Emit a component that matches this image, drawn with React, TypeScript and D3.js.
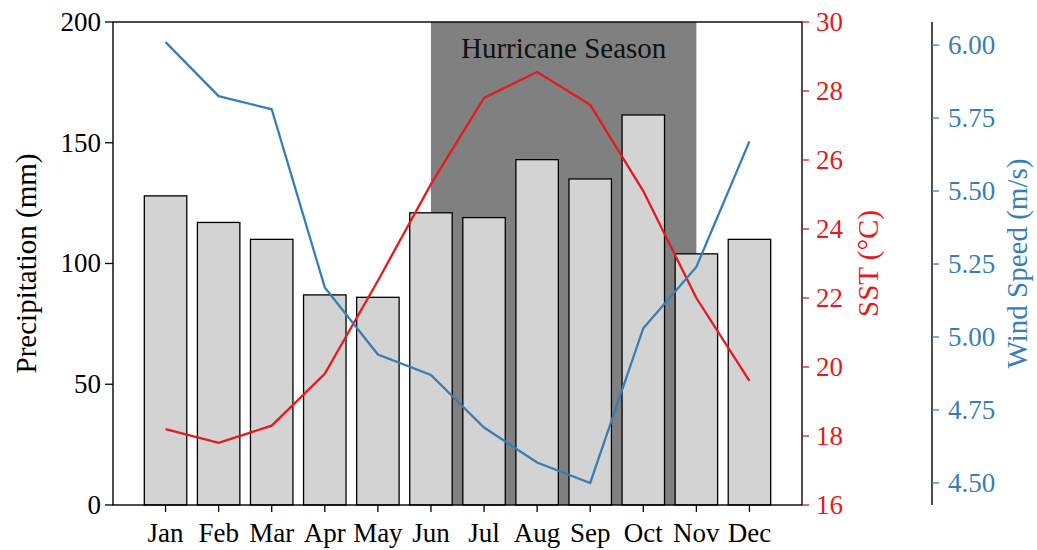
import React from "react";
import * as d3 from "d3";

const months = ["Jan", "Feb", "Mar", "Apr", "May", "Jun", "Jul", "Aug", "Sep", "Oct", "Nov", "Dec"];
const precipitation = [128, 117, 110, 87, 86, 121, 119, 143, 135, 161.5, 104, 110];
const sst = [18.2, 17.8, 18.3, 19.8, 22.5, 25.3, 27.8, 28.55, 27.6, 25.1, 22.0, 19.6];
const wind = [6.01, 5.825, 5.78, 5.17, 4.94, 4.87, 4.69, 4.57, 4.5, 5.03, 5.24, 5.67];
const precipTicks = [0, 50, 100, 150, 200];
const sstTicks = [16, 18, 20, 22, 24, 26, 28, 30];
const windTicks = [4.5, 4.75, 5.0, 5.25, 5.5, 5.75, 6.0];
const seasonStart = 5;
const seasonEnd = 10;

const W = 1037, H = 550;
const left = 113, right = 802, top = 22, bottom = 505;
const windX = 932;
const red = "#e41a1c";
const blue = "#377eb8";
const font = "'Liberation Serif', 'Times New Roman', serif";
const tickSize = 27;
const labelSize = 29;

export default function App() {
  const x = d3.scaleLinear().domain([-0.99, 11.99]).range([left, right]);
  const yP = d3.scaleLinear().domain([0, 200]).range([bottom, top]);
  const yS = d3.scaleLinear().domain([16, 30]).range([bottom, top]);
  const yW = d3.scaleLinear().domain([4.4245, 6.079]).range([bottom, top]);
  const bw = x(0.4) - x(-0.4);
  const sstLine = d3.line<number>().x((_, i) => x(i)).y((d) => yS(d));
  const windLine = d3.line<number>().x((_, i) => x(i)).y((d) => yW(d));

  return (
    <svg width={W} height={H} style={{ position: "absolute", left: 0, top: 0, background: "#fff" }} fontFamily={font}>
      <rect x={x(seasonStart)} y={top} width={x(seasonEnd) - x(seasonStart)} height={bottom - top} fill="#808080" />
      {precipitation.map((v, i) => (
        <rect key={i} x={x(i) - bw / 2} y={yP(v)} width={bw} height={yP(0) - yP(v)} fill="#d3d3d3" stroke="#000" strokeWidth={1.3} />
      ))}
      <text x={x((seasonStart + seasonEnd) / 2)} y={58} textAnchor="middle" fontSize={29} fill="#111">Hurricane Season</text>
      <path d={sstLine(sst) || ""} fill="none" stroke={red} strokeWidth={2.3} />
      <path d={windLine(wind) || ""} fill="none" stroke={blue} strokeWidth={2.3} />
      {/* frame */}
      <rect x={left} y={top} width={right - left} height={bottom - top} fill="none" stroke="#000" strokeWidth={1.4} />
      {/* left axis */}
      {precipTicks.map((t) => (
        <g key={t}>
          <line x1={left - 8} x2={left} y1={yP(t)} y2={yP(t)} stroke="#000" strokeWidth={1.3} />
          <text x={left - 12} y={yP(t)} dy="0.33em" textAnchor="end" fontSize={tickSize} fill="#000">{t}</text>
        </g>
      ))}
      <text transform={`translate(36,${(top + bottom) / 2}) rotate(-90)`} textAnchor="middle" fontSize={labelSize} fill="#000">Precipitation (mm)</text>
      {/* x axis */}
      {months.map((m, i) => (
        <g key={m}>
          <line x1={x(i)} x2={x(i)} y1={bottom} y2={bottom + 7} stroke="#000" strokeWidth={1.3} />
          <text x={x(i)} y={bottom + 37} textAnchor="middle" fontSize={tickSize} fill="#000">{m}</text>
        </g>
      ))}
      {/* SST axis */}
      {sstTicks.map((t) => (
        <g key={t}>
          <line x1={right} x2={right + 7} y1={yS(t)} y2={yS(t)} stroke={red} strokeWidth={1.3} />
          <text x={right + 14} y={yS(t)} dy="0.33em" textAnchor="start" fontSize={tickSize} fill={red}>{t}</text>
        </g>
      ))}
      <text transform={`translate(878,${(top + bottom) / 2}) rotate(-90)`} textAnchor="middle" fontSize={labelSize} fill={red}>SST (°C)</text>
      {/* Wind axis */}
      <line x1={windX} x2={windX} y1={top} y2={bottom} stroke="#000" strokeWidth={1.4} />
      {windTicks.map((t) => (
        <g key={t}>
          <line x1={windX} x2={windX + 7} y1={yW(t)} y2={yW(t)} stroke={blue} strokeWidth={1.3} />
          <text x={windX + 16} y={yW(t)} dy="0.33em" textAnchor="start" fontSize={tickSize} fill={blue}>{t.toFixed(2)}</text>
        </g>
      ))}
      <text transform={`translate(1027,${(top + bottom) / 2}) rotate(-90)`} textAnchor="middle" fontSize={labelSize} fill={blue}>Wind Speed (m/s)</text>
    </svg>
  );
}
